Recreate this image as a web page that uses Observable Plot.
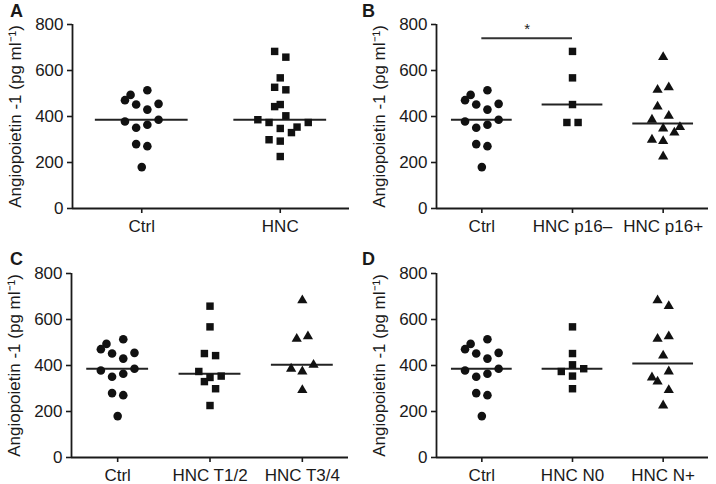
<!DOCTYPE html>
<html><head><meta charset="utf-8">
<script src="https://cdn.jsdelivr.net/npm/d3@7"></script>
<script src="https://cdn.jsdelivr.net/npm/@observablehq/plot@0.6"></script>
<style>
body{margin:0;background:#fff;}
#chart{position:relative;width:716px;height:484px;font-family:"Liberation Sans",Arial,sans-serif;color:#1a1a1a;}
.panel{position:absolute;}
.letter{position:absolute;font-weight:bold;font-size:18px;line-height:1;}
</style></head><body><div id="chart"></div>
<script>
// ---- data ----
const yTicks = [0, 200, 400, 600, 800];
const yLabel = "Angiopoietin -1 (pg ml\u207B\u00B9)";

const ctrlValues = [514, 494, 471, 452, 455, 430, 378, 386, 351, 364, 280, 271, 180];
const ctrlLanes  = [1, -2, -3, -1, 3, 1, -3, 3, -1, 1, -1, 1, 0];

const hncValues = [683, 658, 568, 527, 516, 452, 443, 403, 386, 374, 374, 354, 348, 330, 299, 293, 226];
const hncLanes  = [-1, 1, 0, -1, 1, 0, -1, 1, -4, -2, 5, 3, 0, 2, -2, 0, 0];

const p16negValues = [683, 568, 452, 374, 374];
const p16negLanes  = [0, 0, 0, -1, 1];
const p16posValues = [658, 527, 516, 443, 403, 386, 354, 348, 330, 299, 293, 226];
const p16posLanes  = [0, 1, -1, -1, 1, -2, 3, 0, 2, -2, 0, 0];

const t12Values = [658, 568, 452, 443, 374, 354, 348, 330, 299, 226];
const t12Lanes  = [0, 0, -1, 1, -2, 2, 0, -1, 1, 0];
const t34Values = [683, 527, 516, 403, 386, 374, 293];
const t34Lanes  = [0, 1, -1, 2, -2, 0, 0];

const n0Values = [568, 452, 403, 386, 374, 354, 299];
const n0Lanes  = [0, 0, 0, 2, -2, 0, 0];
const nposValues = [683, 658, 527, 516, 443, 374, 348, 330, 293, 226];
const nposLanes  = [-1, 1, 1, -1, 0, 1, -2, -1, 1, 0];

const groupsA = ["Ctrl", "HNC"];
const groupsB = ["Ctrl", "HNC p16\u2013", "HNC p16+"];
const groupsC = ["Ctrl", "HNC T1/2", "HNC T3/4"];
const groupsD = ["Ctrl", "HNC N0", "HNC N+"];

const sigB = [{from: 0, to: 1, y: 740, label: "*"}];

// ---- drawing ----
const LANE_PX = 5.6;
const symbolSpec = [
  {symbol: "circle", r: 4.3},
  {symbol: "square", r: 4.2},
  {symbol: "triangle", r: 3.8}
];
const FONT = "'Liberation Sans', Arial, sans-serif";

function makePanel(cfg) {
  const {letter, groups, values, lanes, left, top, width, height, ml, mr, mt, mb, sig, letterPos} = cfg;
  const n = groups.length;
  const x0 = -0.5, x1 = n - 0.5;
  const stepPx = (width - ml - mr) / (x1 - x0);
  const laneW = LANE_PX / stepPx;
  const medians = groups.map((g, gi) => ({gi, m: d3.median(values[gi])}));
  const marks = [
    Plot.axisY({ticks: yTicks, tickSize: 5, tickPadding: 4, strokeWidth: 1.6, fontSize: 17,
      label: yLabel, labelAnchor: "center", labelOffset: 64, labelArrow: "none"}),
    Plot.axisX({ticks: d3.range(n), tickFormat: i => groups[i], tickSize: 5, tickPadding: 6,
      strokeWidth: 1.6, fontSize: 17, label: null}),
    Plot.ruleX([x0], {stroke: "#1a1a1a", strokeWidth: 1.8}),
    Plot.ruleY([0], {stroke: "#1a1a1a", strokeWidth: 1.8}),
    Plot.ruleY(medians, {y: "m", x1: d => d.gi - 0.335, x2: d => d.gi + 0.335, stroke: "#222", strokeWidth: 2})
  ];
  groups.forEach((g, gi) => {
    const pts = values[gi].map((v, k) => ({v, x: gi + lanes[gi][k] * laneW}));
    const s = symbolSpec[gi];
    marks.push(Plot.dot(pts, {x: "x", y: "v", symbol: s.symbol, r: s.r, fill: "#111", stroke: "none"}));
  });
  if (sig) {
    marks.push(Plot.ruleY(sig, {y: "y", x1: "from", x2: "to", stroke: "#333", strokeWidth: 2}));
    marks.push(Plot.text(sig, {x: d => (d.from + d.to) / 2, y: "y", text: "label", dy: -9, fontSize: 15, fill: "#222"}));
  }
  const svg = Plot.plot({
    width, height, marginLeft: ml, marginRight: mr, marginTop: mt, marginBottom: mb,
    x: {type: "linear", domain: [x0, x1]},
    y: {type: "linear", domain: [0, 800]},
    style: {fontFamily: FONT, fontSize: "17px", color: "#1a1a1a", background: "transparent", overflow: "visible"},
    marks
  });
  const wrap = document.createElement("div");
  wrap.className = "panel";
  wrap.style.left = left + "px";
  wrap.style.top = top + "px";
  wrap.appendChild(svg);
  const lab = document.createElement("div");
  lab.className = "letter";
  lab.textContent = letter;
  lab.style.left = letterPos[0] + "px";
  lab.style.top = letterPos[1] + "px";
  const chart = document.getElementById("chart");
  chart.appendChild(wrap);
  chart.appendChild(lab);
}

makePanel({letter: "A", groups: groupsA, values: [ctrlValues, hncValues], lanes: [ctrlLanes, hncLanes],
  left: 0, top: 0, width: 358, height: 242, ml: 72, mr: 9, mt: 24, mb: 34, letterPos: [10, 2]});
makePanel({letter: "B", groups: groupsB, values: [ctrlValues, p16negValues, p16posValues], lanes: [ctrlLanes, p16negLanes, p16posLanes],
  left: 364, top: 0, width: 352, height: 242, ml: 72, mr: 8, mt: 24, mb: 34, sig: sigB, letterPos: [362, 2]});
makePanel({letter: "C", groups: groupsC, values: [ctrlValues, t12Values, t34Values], lanes: [ctrlLanes, t12Lanes, t34Lanes],
  left: 0, top: 248, width: 358, height: 236, ml: 71, mr: 10, mt: 25, mb: 27, letterPos: [10, 250]});
makePanel({letter: "D", groups: groupsD, values: [ctrlValues, n0Values, nposValues], lanes: [ctrlLanes, n0Lanes, nposLanes],
  left: 364, top: 248, width: 352, height: 236, ml: 72, mr: 8, mt: 25, mb: 27, letterPos: [362, 250]});
</script>
</body></html>
